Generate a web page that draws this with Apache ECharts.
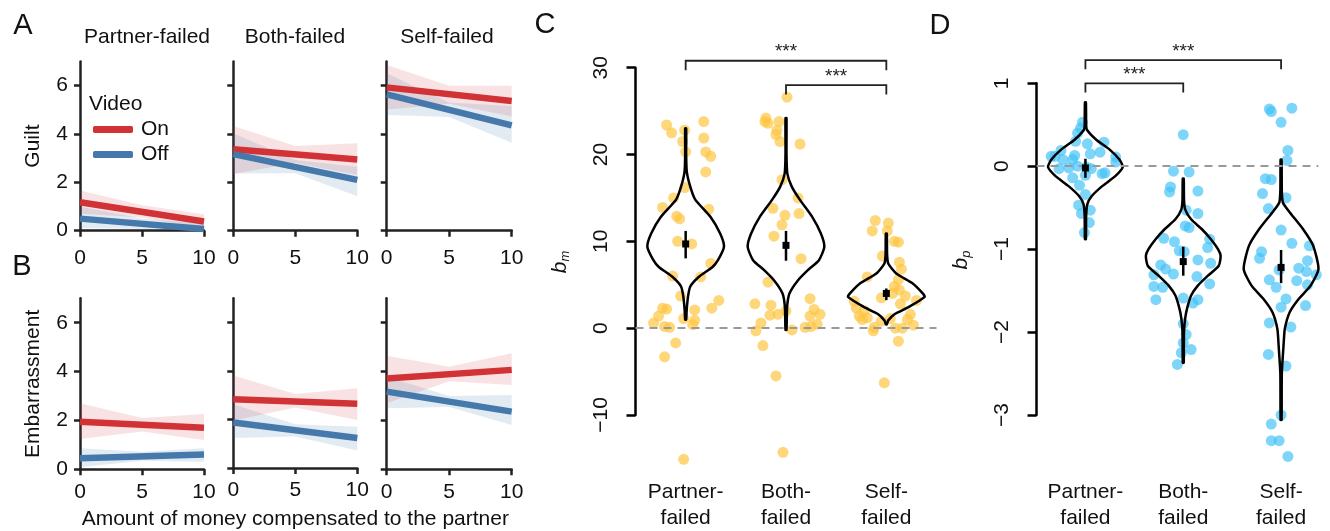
<!DOCTYPE html>
<html>
<head>
<meta charset="utf-8">
<title>Guilt, embarrassment and compensation</title>
<script src="https://cdn.jsdelivr.net/npm/echarts@6/dist/echarts.min.js"></script>
<style>
  html, body { margin: 0; padding: 0; background: #fff; }
  #chart { width: 1330px; height: 531px; }
</style>
</head>
<body>
<div id="chart"></div>
<script>
// ---- panels A / B : regression lines (x = 0 and x = 10) and CI bands (x = 0, 5, 10)
const conditions = ['Partner-failed', 'Both-failed', 'Self-failed'];
const lineX = [0, 10];
const bandX = [0, 5, 10];
const moneyTicks = [0, 5, 10];
const ratingTicks = [0, 2, 4, 6];

const guiltOnLine = [[1.18, 0.38], [3.37, 2.95], [5.93, 5.37]];
const guiltOffLine = [[0.5, 0.07], [3.17, 2.1], [5.64, 4.36]];
const guiltOnLow = [[0.7, 0.55, 0.08], [2.35, 2.8, 2.3], [5.0, 5.25, 4.72]];
const guiltOnHigh = [[1.66, 1.05, 0.68], [4.33, 3.5, 3.62], [6.86, 6.0, 6.0]];
const guiltOffLow = [[0.1, 0.08, -0.2], [2.37, 2.38, 1.43], [4.79, 4.7, 3.64]];
const guiltOffHigh = [[1.0, 0.5, 0.3], [4.03, 2.92, 2.65], [6.51, 5.3, 5.16]];

const embOnLine = [[1.95, 1.7], [2.84, 2.65], [3.72, 4.07]];
const embOffLine = [[0.45, 0.61], [1.88, 1.24], [3.18, 2.36]];
const embOnLow = [[1.24, 1.55, 1.2], [1.95, 2.5, 1.98], [2.7, 3.6, 3.45]];
const embOnHigh = [[2.7, 2.1, 2.26], [3.82, 3.05, 3.29], [4.65, 4.2, 4.75]];
const embOffLow = [[0.08, 0.35, 0.31], [1.24, 1.3, 0.72], [2.5, 2.55, 1.81]];
const embOffHigh = [[0.86, 0.72, 0.86], [2.63, 1.8, 1.7], [3.79, 3.0, 3.04]];

// ---- panel C : b_m per participant, [jitter, value]
const catLabels = ['Partner-\nfailed', 'Both-\nfailed', 'Self-\nfailed'];
const bmTicks = [-10, 0, 10, 20, 30];
const bmPartner = [[-0.19,23.4],[-0.14,22.5],[-0.01,22.8],[0.18,23.8],[-0.03,21.5],[0.18,21.9],[0.0,20.3],[0.2,20.3],
  [0.25,19.8],[0.2,18.0],[-0.01,16.2],[-0.12,15.0],[-0.23,13.9],[0.23,13.7],[-0.09,12.9],[-0.06,12.6],[-0.08,10.0],
  [0.06,9.7],[0.25,7.45],[-0.13,6.0],[0.15,5.9],[-0.05,3.7],[0.33,3.2],[-0.23,2.3],[-0.19,2.2],[0.09,2.1],[0.26,2.3],
  [-0.27,1.4],[-0.32,0.6],[-0.02,1.1],[0.09,0.9],[0.07,0.4],[-0.21,0.2],[-0.16,0.1],[-0.1,-1.7],[-0.21,-3.3],[-0.02,-15.1]];
const bmBoth = [[0.01,26.6],[-0.2,24.2],[-0.21,23.8],[-0.18,23.6],[-0.07,23.8],[-0.09,22.8],[-0.1,22.3],[-0.06,21.5],
  [0.14,21.2],[-0.04,17.1],[0.12,15.0],[-0.13,13.8],[0.13,13.2],[-0.01,13.0],[-0.04,11.9],[-0.12,10.6],[0.15,8.0],
  [-0.18,5.3],[0.24,3.4],[-0.31,2.8],[-0.15,2.65],[0.28,2.15],[0.0,2.0],[-0.08,1.6],[-0.16,1.5],[0.34,1.6],[0.24,1.4],
  [0.31,0.46],[-0.25,0.6],[0.25,0.2],[0.19,0.1],[-0.3,-0.3],[0.06,-0.2],[-0.23,-2.0],[-0.1,-5.5],[-0.03,-14.3]];
const bmSelf = [[-0.11,12.4],[0.02,12.1],[-0.14,11.2],[0.01,11.2],[0.08,10.0],[0.12,9.9],[-0.04,8.3],[0.13,7.6],
  [0.15,6.8],[-0.19,5.9],[0.12,5.6],[0.08,4.8],[0.13,4.4],[0.06,4.0],[0.19,3.7],[-0.05,3.5],[0.3,3.2],[-0.32,3.1],
  [0.14,2.8],[-0.3,2.3],[-0.22,2.0],[-0.27,1.4],[-0.19,1.2],[0.24,1.6],[0.21,1.0],[-0.24,1.0],[0.04,1.1],[-0.05,0.8],
  [0.27,0.35],[-0.12,0.1],[0.09,0.0],[0.16,0.0],[-0.13,-0.3],[0.12,-1.5],[-0.02,-6.3]];
// violin outlines: [value, relative half width]
const bmViolins = [
  [[23.0,0.013],[20,0.013],[18,0.03],[16.3,0.12],[14.8,0.25],[12.8,0.65],[10.9,0.9],[9.4,1.0],[7.9,0.85],[7.05,0.7],
   [5.9,0.34],[4.8,0.12],[3.6,0.06],[2.0,0.025],[1.0,0.013]],
  [[24.2,0.013],[20,0.013],[17.8,0.035],[16.3,0.15],[14.8,0.36],[12.84,0.68],[10.9,0.91],[9.38,1.0],[7.83,0.86],
   [6.68,0.57],[5.5,0.31],[4.0,0.09],[2.5,0.03],[-0.2,0.013]],
  [[10.9,0.013],[8.5,0.02],[7.45,0.05],[6.3,0.26],[5.15,0.69],[4.0,0.95],[3.6,1.0],[2.45,0.59],[1.66,0.23],[0.9,0.05],
   [0.45,0.013]]
];
const bmMean = [9.7, 9.54, 4.0];
const bmCI = [[8.04, 11.2], [7.77, 11.2], [3.23, 4.57]];
const bmBrackets = [[0, 2, 30.8, 29.7], [1, 2, 28.0, 26.9]];

// ---- panel D : b_p per participant, [jitter, value]
const bpTicks = [-3, -2, -1, 0, 1];
const bpPartner = [[-0.03,0.53],[-0.05,0.46],[-0.08,0.40],[-0.1,0.30],[0.02,0.27],[0.19,0.29],[-0.25,0.19],[0.15,0.17],
  [0.05,0.15],[-0.35,0.12],[-0.31,0.12],[-0.11,0.13],[0.31,0.11],[-0.13,0.08],[-0.23,0.08],[0.31,0.05],[-0.08,0.0],
  [0.01,-0.01],[-0.17,-0.02],[-0.27,-0.03],[0.06,-0.03],[0.17,-0.09],[0.2,-0.08],[0.0,-0.11],[-0.13,-0.14],
  [-0.06,-0.23],[0.0,-0.34],[-0.07,-0.47],[0.05,-0.53],[-0.04,-0.57],[0.04,-0.68],[-0.01,-0.8]];
const bpBoth = [[0.0,0.38],[-0.1,-0.06],[0.06,-0.07],[-0.13,-0.25],[-0.14,-0.31],[0.15,-0.3],[0.03,-0.53],[0.15,-0.57],
  [0.02,-0.72],[0.06,-0.74],[-0.2,-0.87],[-0.09,-0.91],[0.27,-0.88],[0.25,-0.98],[-0.04,-1.02],[0.01,-1.03],
  [0.15,-1.13],[0.28,-1.17],[-0.23,-1.19],[-0.18,-1.24],[-0.1,-1.3],[-0.3,-1.31],[-0.3,-1.45],[-0.21,-1.46],
  [0.14,-1.33],[0.27,-1.42],[-0.28,-1.61],[0.0,-1.59],[0.1,-1.65],[0.15,-1.61],[0.0,-1.9],[0.03,-2.03],[0.0,-2.13],
  [0.08,-2.21],[-0.02,-2.25],[-0.06,-2.39]];
const bpSelf = [[-0.12,0.69],[-0.1,0.66],[0.11,0.7],[0.0,0.53],[0.07,0.19],[0.06,0.07],[-0.16,-0.15],[-0.1,-0.16],
  [-0.19,-0.33],[0.05,-0.38],[-0.13,-0.51],[0.0,-0.77],[0.11,-0.93],[0.29,-0.96],[-0.2,-1.03],[-0.22,-1.11],
  [0.27,-1.14],[0.18,-1.23],[-0.02,-1.25],[0.26,-1.27],[0.36,-1.31],[-0.12,-1.37],[0.16,-1.38],[0.27,-1.43],
  [-0.05,-1.46],[0.05,-1.6],[0.0,-1.7],[0.25,-1.68],[-0.12,-1.89],[0.1,-1.94],[-0.13,-2.27],[0.05,-2.41],[0.0,-3.0],
  [-0.1,-3.11],[-0.1,-3.31],[-0.02,-3.31],[0.07,-3.5]];
const bpViolins = [
  [[0.77,0.013],[0.5,0.02],[0.44,0.04],[0.32,0.29],[0.2,0.65],[0.08,0.91],[-0.01,1.0],[-0.12,0.8],[-0.24,0.45],
   [-0.36,0.17],[-0.46,0.05],[-0.6,0.02],[-0.88,0.013]],
  [[-0.15,0.013],[-0.4,0.02],[-0.52,0.05],[-0.64,0.21],[-0.76,0.5],[-0.88,0.74],[-1.0,0.93],[-1.08,1.0],[-1.2,0.95],
   [-1.32,0.66],[-1.44,0.39],[-1.56,0.21],[-1.72,0.1],[-1.84,0.05],[-2.0,0.02],[-2.37,0.013]],
  [[0.08,0.013],[-0.3,0.02],[-0.44,0.05],[-0.56,0.24],[-0.76,0.59],[-0.96,0.86],[-1.24,1.0],[-1.44,0.79],[-1.6,0.47],
   [-1.76,0.23],[-1.96,0.1],[-2.16,0.066],[-2.5,0.02],[-3.06,0.013]]
];
const bpMean = [-0.02, -1.15, -1.22];
const bpCI = [[-0.14, 0.09], [-1.32, -0.97], [-1.41, -1.01]];
const bpBrackets = [[0, 2, 1.28, 1.17], [0, 1, 1.0, 0.89]];

// ---- styling
const FONT = '"Liberation Sans", Arial, Helvetica, sans-serif';
const RED = '#d03236';
const BLUE = '#4679ab';
const RED_BAND = 'rgba(214, 60, 64, 0.15)';
const BLUE_BAND = 'rgba(70, 121, 171, 0.15)';
const YELLOW = 'rgba(253, 196, 62, 0.85)';
const CYAN = 'rgba(64, 195, 246, 0.85)';
const VIOLIN_HALF = 0.382;

const smallLeft = [80, 233.3, 386.7];
const smallWidth = [124, 124, 125];
const rowTop = [61.5, 298.3];
const rowHeight = [169.2, 171];

let myChart = echarts.init(document.getElementById('chart'));

const minus = v => String(v).replace('-', '\u2212');
const axisColor = '#222';

let grids = [], xAxes = [], yAxes = [], series = [];

function bandSeries(g, lo, hi, color) {
  return {
    type: 'custom', xAxisIndex: g, yAxisIndex: g, silent: true, z: 1,
    data: bandX.map((x, i) => [x, lo[i], hi[i]]),
    renderItem(params, api) {
      if (params.dataIndex !== 0) return;
      const top = bandX.map((x, i) => api.coord([x, hi[i]]));
      const bottom = bandX.map((x, i) => api.coord([x, lo[i]])).reverse();
      const pts = echarts.graphic.clipPointsByRect(top.concat(bottom), params.coordSys);
      return { type: 'polygon', shape: { points: pts }, style: { fill: color } };
    }
  };
}

function lineSeries(g, name, ys, color) {
  return {
    type: 'line', name: name, xAxisIndex: g, yAxisIndex: g, z: 3,
    data: lineX.map((x, i) => [x, ys[i]]),
    showSymbol: false, silent: true,
    itemStyle: { color: color },
    lineStyle: { color: color, width: 6.5 }
  };
}

const rows = [
  { on: guiltOnLine, off: guiltOffLine, onLo: guiltOnLow, onHi: guiltOnHigh, offLo: guiltOffLow, offHi: guiltOffHigh, name: 'Guilt' },
  { on: embOnLine, off: embOffLine, onLo: embOnLow, onHi: embOnHigh, offLo: embOffLow, offHi: embOffHigh, name: 'Embarrassment' }
];

rows.forEach((row, r) => {
  for (let c = 0; c < 3; c++) {
    const g = r * 3 + c;
    grids.push({ left: smallLeft[c], width: smallWidth[c], top: rowTop[r], height: rowHeight[r] });
    xAxes.push({
      type: 'value', gridIndex: g, min: 0, max: 10,
      axisLine: { onZero: false, lineStyle: { color: axisColor, width: 2.5 } },
      axisTick: { length: 6, lineStyle: { color: axisColor, width: 2.5 }, customValues: moneyTicks },
      axisLabel: { fontSize: 21, fontFamily: FONT, color: '#111', margin: r === 0 ? 17 : 12, customValues: moneyTicks },
      splitLine: { show: false },
      name: (r === 1 && c === 1) ? 'Amount of money compensated to the partner' : '',
      nameLocation: 'middle', nameGap: 41,
      nameTextStyle: { fontSize: 21, fontFamily: FONT, color: '#111' }
    });
    yAxes.push({
      type: 'value', gridIndex: g, min: 0, max: 7,
      axisLine: { show: true, onZero: false, lineStyle: { color: axisColor, width: 2.5 } },
      axisTick: { show: true, length: 6, lineStyle: { color: axisColor, width: 2.5 }, customValues: ratingTicks },
      axisLabel: { show: c === 0, fontSize: 21, fontFamily: FONT, color: '#111', margin: 12, customValues: ratingTicks },
      splitLine: { show: false },
      name: c === 0 ? row.name : '', nameLocation: 'middle', nameGap: 36,
      nameTextStyle: { fontSize: 21, fontFamily: FONT, color: '#111' }
    });
    series.push(bandSeries(g, row.onLo[c], row.onHi[c], RED_BAND));
    series.push(bandSeries(g, row.offLo[c], row.offHi[c], BLUE_BAND));
    series.push(lineSeries(g, 'On', row.on[c], RED));
    series.push(lineSeries(g, 'Off', row.off[c], BLUE));
  }
});

// ---- violin panels
function violinPanel(cfg) {
  const g = grids.length;
  grids.push(cfg.grid);
  xAxes.push({
    type: 'category', gridIndex: g, data: catLabels,
    axisLine: { show: false, onZero: false }, axisTick: { show: false },
    axisLabel: { interval: 0, hideOverlap: false, fontSize: 21, fontFamily: FONT, color: '#111', lineHeight: 26, margin: 64 }
  });
  const xv = xAxes.length;
  xAxes.push({ type: 'value', gridIndex: g, min: -0.5, max: 2.5, show: false, axisLine: { onZero: false } });
  const yv = yAxes.length;
  yAxes.push({
    type: 'value', gridIndex: g, min: cfg.ticks[0], max: cfg.ticks[cfg.ticks.length - 1],
    interval: cfg.ticks[1] - cfg.ticks[0],
    axisLine: { show: true, onZero: false, lineStyle: { color: '#000', width: 2.5 } },
    axisTick: { show: true, length: 9, lineStyle: { color: '#000', width: 2.5 } },
    axisLabel: { rotate: 90, fontSize: 21, fontFamily: FONT, color: '#111', margin: 24, formatter: minus },
    splitLine: { show: false }
  });

  cfg.points.forEach((pts, i) => {
    const s = {
      type: 'scatter', xAxisIndex: xv, yAxisIndex: yv, z: 2, clip: false, silent: true,
      symbolSize: 11, itemStyle: { color: cfg.color },
      data: pts.map(p => [i + p[0], p[1]])
    };
    if (i === 0) {
      s.markLine = {
        silent: true, symbol: 'none', label: { show: false }, animation: false,
        lineStyle: { color: '#999', width: 2, type: [8, 6] },
        data: [[{ coord: [-0.5, 0] }, { coord: [cfg.zeroEnd, 0] }]]
      };
    }
    series.push(s);
  });

  series.push({
    type: 'custom', xAxisIndex: xv, yAxisIndex: yv, z: 4, silent: true, clip: false,
    data: cfg.violins.map((p, i) => [i, p[0][0]]),
    renderItem(params, api) {
      const i = params.dataIndex;
      const prof = cfg.violins[i];
      const right = prof.map(([v, d]) => api.coord([i + d * VIOLIN_HALF, v]));
      const left = prof.map(([v, d]) => api.coord([i - d * VIOLIN_HALF, v])).reverse();
      return {
        type: 'polygon', shape: { points: right.concat(left), smooth: 0.2 },
        style: { fill: 'none', stroke: '#000', lineWidth: 2.5 }
      };
    }
  });

  series.push({
    type: 'custom', xAxisIndex: xv, yAxisIndex: yv, z: 5, silent: true, clip: false,
    data: cfg.mean.map((m, i) => [i, m, cfg.ci[i][0], cfg.ci[i][1]]),
    renderItem(params, api) {
      const i = api.value(0);
      const c = api.coord([i, api.value(1)]);
      const lo = api.coord([i, api.value(2)]);
      const hi = api.coord([i, api.value(3)]);
      return {
        type: 'group', children: [
          { type: 'line', shape: { x1: lo[0], y1: lo[1], x2: hi[0], y2: hi[1] }, style: { stroke: '#000', lineWidth: 2.5 } },
          { type: 'rect', shape: { x: c[0] - 3.5, y: c[1] - 3.5, width: 7, height: 7 }, style: { fill: '#000' } }
        ]
      };
    }
  });

  series.push({
    type: 'custom', xAxisIndex: xv, yAxisIndex: yv, z: 5, silent: true, clip: false,
    data: cfg.brackets,
    renderItem(params, api) {
      const a = api.coord([api.value(0), api.value(2)]);
      const b = api.coord([api.value(1), api.value(2)]);
      const a2 = api.coord([api.value(0), api.value(3)]);
      const b2 = api.coord([api.value(1), api.value(3)]);
      return {
        type: 'group', children: [
          { type: 'polyline', shape: { points: [a2, a, b, b2] }, style: { stroke: '#222', lineWidth: 1.8, fill: 'none' } },
          { type: 'text', x: (a[0] + b[0]) / 2, y: a[1] + 1,
            style: { text: '***', font: '19px ' + FONT, fill: '#222', textAlign: 'center', textVerticalAlign: 'bottom' } }
        ]
      };
    }
  });
}

violinPanel({
  grid: { left: 635.5, top: 67.7, width: 301, height: 347.3 },
  ticks: bmTicks, points: [bmPartner, bmBoth, bmSelf], violins: bmViolins,
  mean: bmMean, ci: bmCI, brackets: bmBrackets, color: YELLOW, zeroEnd: 2.5
});
violinPanel({
  grid: { left: 1036.5, top: 83.3, width: 302, height: 333.4 },
  ticks: bpTicks, points: [bpPartner, bpBoth, bpSelf], violins: bpViolins,
  mean: bpMean, ci: bpCI, brackets: bpBrackets, color: CYAN, zeroEnd: 2.38
});

function label(text, x, y, size, align) {
  return { type: 'text', x: x, y: y, silent: true,
    style: { text: text, font: size + 'px ' + FONT, fill: '#111', textAlign: align || 'center', textVerticalAlign: 'middle' } };
}

function subLabel(main, sub, x, y) {
  return {
    type: 'text', x: x, y: y, rotation: Math.PI / 2, silent: true,
    style: {
      text: '{b|' + main + '}{s|' + sub + '}', textAlign: 'center', textVerticalAlign: 'middle',
      rich: {
        b: { fontSize: 21, fontStyle: 'italic', fontFamily: FONT, fill: '#111', lineHeight: 24 },
        s: { fontSize: 13, fontStyle: 'italic', fontFamily: FONT, fill: '#111', lineHeight: 14, verticalAlign: 'bottom' }
      }
    }
  };
}

myChart.setOption({
  animation: false,
  textStyle: { fontFamily: FONT },
  legend: {
    data: ['On', 'Off'], orient: 'vertical', left: 88, top: 114,
    icon: 'roundRect', itemWidth: 40, itemHeight: 7, itemGap: 4,
    textStyle: { fontSize: 21, fontFamily: FONT, color: '#111', padding: [0, 0, 0, 3] },
    selectedMode: false
  },
  grid: grids,
  xAxis: xAxes,
  yAxis: yAxes,
  series: series,
  graphic: [
    label('A', 23, 26, 29), label('B', 22, 267, 29), label('C', 545, 25, 29), label('D', 940, 26, 29),
    label(conditions[0], 147, 37, 21), label(conditions[1], 295, 37, 21), label(conditions[2], 447, 37, 21),
    label('Video', 89, 104, 21, 'left'),
    subLabel('b', 'm', 560, 262), subLabel('b', 'p', 961, 260)
  ]
});
</script>
</body>
</html>
